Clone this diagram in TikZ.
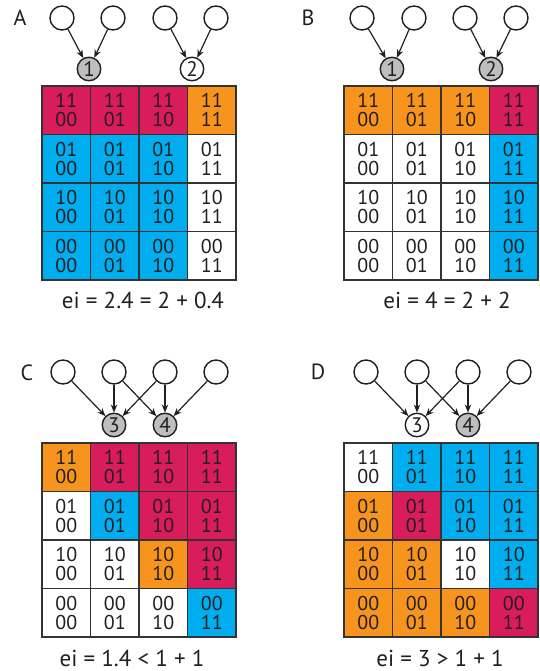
\documentclass[tikz,border=0pt]{standalone}
\usepackage{fontspec}
\setmainfont{PT Sans}
\usetikzlibrary{arrows.meta}

\definecolor{mg}{HTML}{D91C5C}
\definecolor{og}{HTML}{F7941D}
\definecolor{cy}{HTML}{00AEEF}
\definecolor{wh}{HTML}{FFFFFF}
\definecolor{ink}{HTML}{231F20}
\definecolor{nodegray}{HTML}{BCBEC0}
\definecolor{gridline}{HTML}{333333}

% row / column state labels of the transition table
\newcommand\rowlab[1]{\ifcase#1\relax 11\or 01\or 10\or 00\fi}
\newcommand\collab[1]{\ifcase#1\relax 00\or 01\or 10\or 11\fi}

% 4x4 coloured table: #1 name prefix, #2 left x, #3 top y, #4 cell colours
\newcommand\cellgrid[4]{%
  \foreach \c [count=\i from 0] in {#4} {%
    \pgfmathtruncatemacro\rw{\i/4}%
    \pgfmathtruncatemacro\cl{mod(\i,4)}%
    \node[cell, fill=\c] (#1-\i) at ({#2+(\cl+0.5)*48.5},{#3+(\rw+0.5)*48.5})
      {\rowlab{\rw}\\\collab{\cl}};
  }%
}

\begin{document}
\begin{tikzpicture}[x=1pt,y=-1pt,
  cell/.style={draw=gridline, line width=1.1pt, minimum width=48.5pt,
    minimum height=48.5pt, inner sep=0pt, align=center, text=ink,
    font=\fontsize{20}{19}\selectfont},
  parent/.style={circle, draw=ink, line width=1.4pt, fill=white,
    minimum size=24pt, inner sep=0pt},
  unit/.style={circle, draw=ink, line width=1.4pt, minimum size=23.5pt,
    inner sep=0pt, text=ink, font=\fontsize{21}{21}\selectfont},
  gnode/.style={unit, fill=nodegray},
  wnode/.style={unit, fill=white},
  link/.style={-{Stealth[length=8pt,width=6.5pt]}, line width=1.2pt, draw=ink},
  tag/.style={text=ink, font=\fontsize{22}{22}\selectfont},
  score/.style={text=ink, font=\fontsize{23}{23}\selectfont}]

\useasboundingbox (0,0) rectangle (540,671);

% ---------------- A ----------------
\node[tag] (tA) at (20,18) {A};
\foreach \n/\x in {1/62,2/113,3/165,4/216} \node[parent] (A-p\n) at (\x,18) {};
\node[gnode] (A-u1) at (89,69) {1};
\node[wnode] (A-u2) at (192,69) {2};
\draw[link] (A-p1) -- (A-u1);
\draw[link] (A-p2) -- (A-u1);
\draw[link] (A-p3) -- (A-u2);
\draw[link] (A-p4) -- (A-u2);
\cellgrid{A}{42}{86}{mg,mg,mg,og,cy,cy,cy,wh,cy,cy,cy,wh,cy,cy,cy,wh}
\node[score] (sA) at (143,300) {ei = 2.4 = 2 + 0.4};

% ---------------- B ----------------
\node[tag] (tB) at (308,18) {B};
\foreach \n/\x in {1/362,2/414,3/465,4/516} \node[parent] (B-p\n) at (\x,18) {};
\node[gnode] (B-u1) at (392,69) {1};
\node[gnode] (B-u2) at (491,69) {2};
\draw[link] (B-p1) -- (B-u1);
\draw[link] (B-p2) -- (B-u1);
\draw[link] (B-p3) -- (B-u2);
\draw[link] (B-p4) -- (B-u2);
\cellgrid{B}{344}{86}{og,og,og,mg,wh,wh,wh,cy,wh,wh,wh,cy,wh,wh,wh,cy}
\node[score] (sB) at (447,300) {ei = 4 = 2 + 2};

% ---------------- C ----------------
\node[tag] (tC) at (27,373) {C};
\foreach \n/\x in {1/63,2/114,3/165,4/216} \node[parent] (C-p\n) at (\x,372) {};
\node[gnode] (C-u3) at (114,425) {3};
\node[gnode] (C-u4) at (165,425) {4};
\draw[link] (C-p1) -- (C-u3);
\draw[link] (C-p2) -- (C-u3);
\draw[link] (C-p2) -- (C-u4);
\draw[link] (C-p3) -- (C-u3);
\draw[link] (C-p3) -- (C-u4);
\draw[link] (C-p4) -- (C-u4);
\cellgrid{C}{42}{443}{og,mg,mg,mg,wh,cy,mg,mg,wh,wh,og,mg,wh,wh,wh,cy}
\node[score] (sC) at (132,658) {ei = 1.4 < 1 + 1};

% ---------------- D ----------------
\node[tag] (tD) at (318,372) {D};
\foreach \n/\x in {1/366,2/417,3/468,4/519} \node[parent] (D-p\n) at (\x,372) {};
\node[wnode] (D-u3) at (417,425) {3};
\node[gnode] (D-u4) at (468,425) {4};
\draw[link] (D-p1) -- (D-u3);
\draw[link] (D-p2) -- (D-u3);
\draw[link] (D-p2) -- (D-u4);
\draw[link] (D-p3) -- (D-u3);
\draw[link] (D-p3) -- (D-u4);
\draw[link] (D-p4) -- (D-u4);
\cellgrid{D}{344}{443}{wh,cy,cy,cy,og,mg,cy,cy,og,og,wh,cy,og,og,og,mg}
\node[score] (sD) at (440,658) {ei = 3 > 1 + 1};

\end{tikzpicture}
\end{document}
